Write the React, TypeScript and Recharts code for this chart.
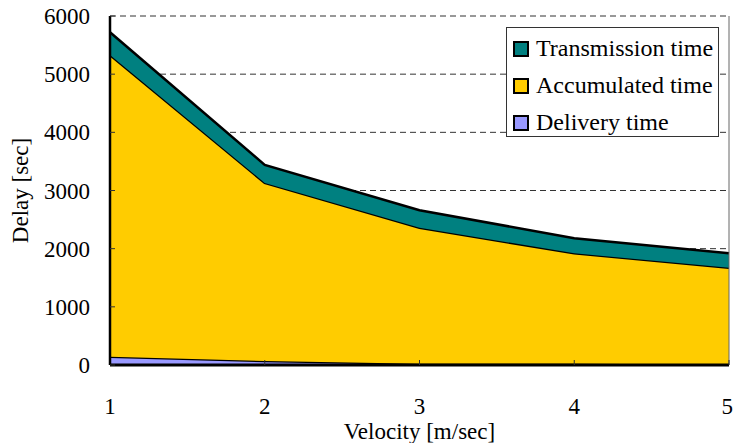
import React from 'react';
import { AreaChart, Area, XAxis, YAxis, CartesianGrid, Legend, ReferenceLine } from 'recharts';

const velocities = [1, 2, 3, 4, 5];
const deliveryTime = [140, 70, 20, 20, 10];
const accumulatedTime = [5190, 3060, 2340, 1900, 1660];
const transmissionTime = [390, 310, 300, 260, 250];
const yTicks = [0, 1000, 2000, 3000, 4000, 5000, 6000];

const font = "'Liberation Serif', 'Times New Roman', serif";

const series = [
  { key: 'transmission', name: 'Transmission time', color: '#008080' },
  { key: 'accumulated', name: 'Accumulated time', color: '#FFCC00' },
  { key: 'delivery', name: 'Delivery time', color: '#9999FF' },
];

const data = velocities.map((v, i) => ({
  v,
  delivery: deliveryTime[i],
  accumulated: accumulatedTime[i],
  transmission: transmissionTime[i],
}));

const LegendBox = () => (
  <div
    style={{
      border: '1px solid #333',
      background: '#fff',
      width: 213,
      height: 110,
      padding: '2px 0 0 6px',
      boxSizing: 'border-box',
      fontFamily: font,
      fontSize: 24,
      color: '#000',
      textAlign: 'left',
    }}
  >
    {series.map((s) => (
      <div key={s.key} style={{ display: 'flex', alignItems: 'center', height: 37 }}>
        <div
          style={{
            width: 12,
            height: 12,
            background: s.color,
            border: '2.5px solid #000',
            marginRight: 7,
            flexShrink: 0,
          }}
        />
        <span style={{ whiteSpace: 'nowrap' }}>{s.name}</span>
      </div>
    ))}
  </div>
);

export default function App() {
  return (
    <div style={{ position: 'fixed', left: 0, top: 0, background: '#fff', fontFamily: font }}>
      <AreaChart
        width={733}
        height={443}
        data={data}
        margin={{ top: 16, right: 4, bottom: 18, left: 0 }}
      >
        <CartesianGrid vertical={false} stroke="#333" strokeDasharray="6 4" />
        <XAxis
          dataKey="v"
          type="number"
          domain={[1, 5]}
          ticks={velocities}
          height={60}
          axisLine={{ stroke: '#000', strokeWidth: 3 }}
          tickLine={{ stroke: '#333' }}
          tickSize={-5}
          tickMargin={38}
          tick={{ fill: '#000', fontSize: 23, fontFamily: font }}
          label={{
            value: 'Velocity [m/sec]',
            position: 'insideBottom',
            offset: -14,
            style: { fill: '#000', fontSize: 23, fontFamily: font },
          }}
        />
        <YAxis
          type="number"
          domain={[0, 6000]}
          ticks={yTicks}
          width={110}
          axisLine={{ stroke: '#000', strokeWidth: 2.5 }}
          tickLine={{ stroke: '#333' }}
          tickSize={-5}
          tickMargin={25}
          tick={{ fill: '#000', fontSize: 23, fontFamily: font }}
          label={{
            value: 'Delay [sec]',
            angle: -90,
            position: 'insideLeft',
            offset: 20,
            style: { fill: '#000', fontSize: 23, fontFamily: font, textAnchor: 'middle' },
          }}
        />
        <ReferenceLine x={5} stroke="#666" strokeWidth={1} />
        <Area
          type="linear"
          dataKey="delivery"
          name="Delivery time"
          stackId="a"
          fill="#9999FF"
          fillOpacity={1}
          stroke="#000"
          strokeWidth={2.5}
          isAnimationActive={false}
        />
        <Area
          type="linear"
          dataKey="accumulated"
          name="Accumulated time"
          stackId="a"
          fill="#FFCC00"
          fillOpacity={1}
          stroke="#000"
          strokeWidth={2.5}
          isAnimationActive={false}
        />
        <Area
          type="linear"
          dataKey="transmission"
          name="Transmission time"
          stackId="a"
          fill="#008080"
          fillOpacity={1}
          stroke="#000"
          strokeWidth={2.5}
          isAnimationActive={false}
        />
        <Legend
          content={<LegendBox />}
          verticalAlign="middle"
          align="center"
          layout="horizontal"
          wrapperStyle={{ top: 27, left: 506, width: 213 }}
        />
      </AreaChart>
    </div>
  );
}
